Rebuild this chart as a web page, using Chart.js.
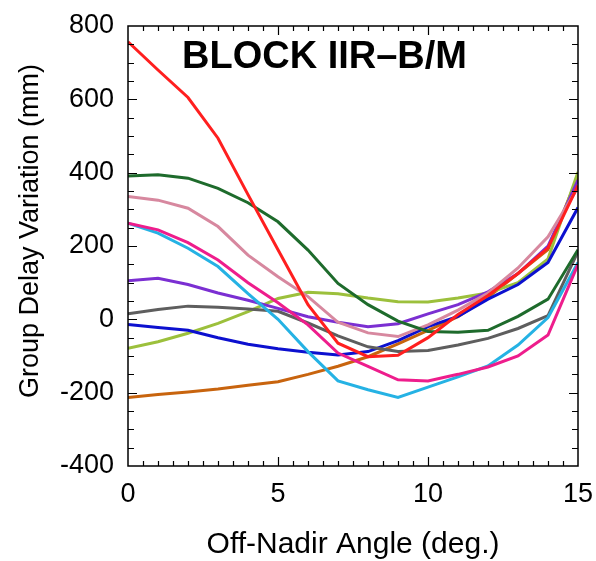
<!DOCTYPE html>
<html>
<head>
<meta charset="utf-8">
<script src="https://cdn.jsdelivr.net/npm/chart.js@4/dist/chart.umd.min.js"></script>
<style>
  html, body { margin: 0; padding: 0; background: #fff; }
  #wrap { width: 596px; height: 561px; }
</style>
</head>
<body>
<div id="wrap"><canvas id="gdv" width="596" height="561"></canvas></div>
<script>
// off-nadir angle (deg.)
const angles = [0, 1, 2, 3, 4, 5, 6, 7, 8, 9, 10, 11, 12, 13, 14, 15];
const yTicks = [-400, -200, 0, 200, 400, 600, 800];

// group delay variation (mm), one curve per satellite
const red       = [757, 680, 605, 494, 340, 190, 40, -65, -102, -98, -50, 13, 65, 125, 195, 365];
const darkGreen = [391, 394, 385, 357, 318, 266, 189, 98, 40, -5, -33, -35, -30, 8, 55, 190];
const mauve     = [335, 325, 303, 253, 175, 116, 62, -8, -37, -47, -15, 25, 72, 140, 225, 360];
const magenta   = [262, 244, 209, 162, 100, 45, -15, -92, -128, -165, -168, -150, -130, -100, -43, 150];
const cyan      = [262, 235, 194, 144, 70, 0, -88, -168, -192, -213, -185, -157, -127, -70, 5, 155];
const purple    = [105, 112, 95, 72, 52, 30, 7, -8, -20, -12, 15, 40, 75, 125, 200, 380];
const gray      = [15, 27, 36, 33, 28, 22, -10, -45, -75, -88, -85, -70, -52, -25, 10, 185];
const blue      = [-14, -22, -30, -50, -68, -80, -90, -97, -88, -58, -20, 8, 55, 95, 155, 305];
const yellowGrn = [-79, -61, -38, -11, 21, 57, 74, 70, 58, 48, 47, 58, 72, 100, 165, 402];
const orange    = [-213, -205, -198, -190, -180, -170, -150, -128, -102, -67, -30, 7, 60, 125, 190, 390];

const curves = [
  [red, '#ff1f1f'],
  [darkGreen, '#1e6b2c'],
  [mauve, '#d7889f'],
  [magenta, '#ee1d8c'],
  [cyan, '#25b2e4'],
  [purple, '#7b2fd2'],
  [gray, '#5e5e5e'],
  [blue, '#0c10cf'],
  [yellowGrn, '#9cc03c'],
  [orange, '#c8640e']
];

const datasets = curves.map(c => ({
  data: angles.map((a, i) => ({x: a, y: c[0][i]})),
  borderColor: c[1],
  borderWidth: 3,
  pointRadius: 0,
  tension: 0,
  fill: false
}));

// frame, inside tick marks, block title and y label
const decor = {
  id: 'decor',
  afterDraw(chart) {
    const ctx = chart.ctx;
    const a = chart.chartArea;
    const xs = chart.scales.x, ys = chart.scales.y;
    ctx.save();
    ctx.strokeStyle = '#000';
    ctx.lineWidth = 1.5;
    ctx.strokeRect(a.left, a.top, a.right - a.left, a.bottom - a.top);
    ctx.lineWidth = 1.2;
    ctx.beginPath();
    for (let v = 0.5; v < 15; v += 0.5) {
      const px = Math.round(xs.getPixelForValue(v)) + 0.5;
      const len = (v % 5 === 0) ? 9 : 5;
      ctx.moveTo(px, a.bottom); ctx.lineTo(px, a.bottom - len);
      ctx.moveTo(px, a.top); ctx.lineTo(px, a.top + len);
    }
    for (let v = -350; v < 800; v += 50) {
      const py = Math.round(ys.getPixelForValue(v)) + 0.5;
      const len = (v % 200 === 0) ? 9 : 6;
      ctx.moveTo(a.left, py); ctx.lineTo(a.left + len, py);
      ctx.moveTo(a.right, py); ctx.lineTo(a.right - len, py);
    }
    ctx.stroke();

    ctx.fillStyle = '#000';
    ctx.font = 'bold 38px "Liberation Sans", Arial, sans-serif';
    ctx.textAlign = 'left';
    ctx.textBaseline = 'alphabetic';
    ctx.fillText('BLOCK IIR\u2013B/M', 182, 68);

    ctx.font = '27px "Liberation Sans", Arial, sans-serif';
    ctx.translate(38, 231);
    ctx.rotate(-Math.PI / 2);
    ctx.textAlign = 'center';
    ctx.fillText('Group Delay Variation (mm)', 0, 0);
    ctx.restore();
  }
};

new Chart(document.getElementById('gdv'), {
  type: 'line',
  data: { datasets: datasets },
  plugins: [decor],
  options: {
    responsive: false,
    animation: false,
    layout: { padding: { left: 0, top: 26, right: 18, bottom: 0 } },
    plugins: { legend: { display: false }, tooltip: { enabled: false } },
    scales: {
      x: {
        type: 'linear',
        min: 0, max: 15,
        afterFit(s) { s.height = 95; s.paddingLeft = 0; s.paddingRight = 0; },
        grid: { display: false, drawTicks: false },
        border: { display: false },
        ticks: {
          stepSize: 5,
          padding: 12,
          color: '#000',
          font: { family: '"Liberation Sans", Arial, sans-serif', size: 27 }
        },
        title: {
          display: true,
          text: 'Off-Nadir Angle (deg.)',
          color: '#000',
          padding: { top: 0, bottom: 1 },
          font: { family: '"Liberation Sans", Arial, sans-serif', size: 30, lineHeight: 1 }
        }
      },
      y: {
        type: 'linear',
        min: -400, max: 800,
        afterFit(s) { s.width = 128; s.paddingTop = 0; s.paddingBottom = 0; },
        afterBuildTicks(s) { s.ticks = yTicks.map(v => ({value: v})); },
        grid: { display: false, drawTicks: false },
        border: { display: false },
        ticks: {
          padding: 14,
          color: '#000',
          font: { family: '"Liberation Sans", Arial, sans-serif', size: 27 }
        }
      }
    }
  }
});
</script>
</body>
</html>
